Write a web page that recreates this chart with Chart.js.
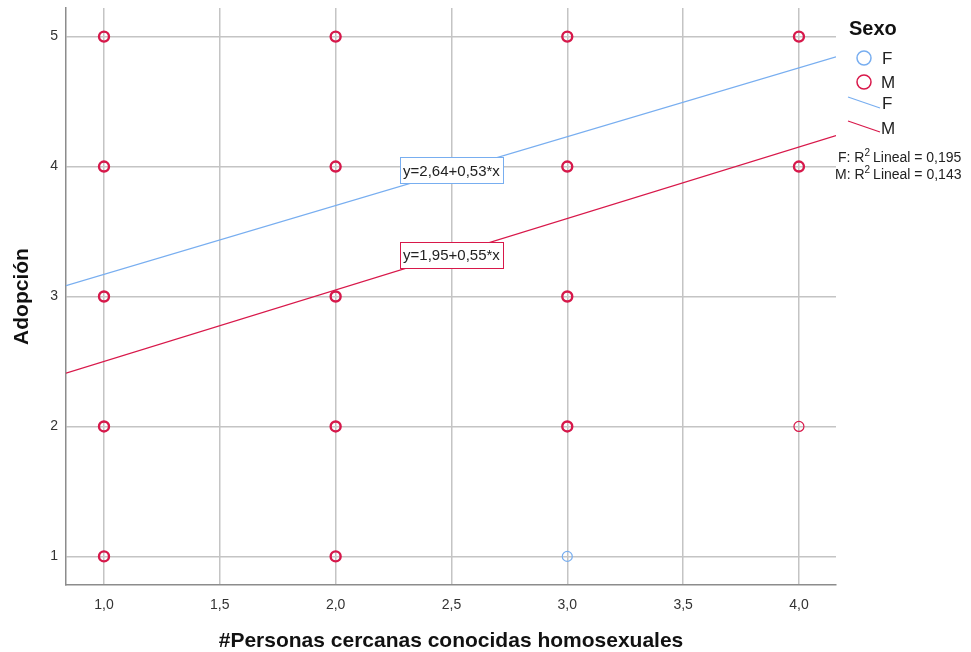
<!DOCTYPE html>
<html>
<head>
<meta charset="utf-8">
<script src="https://cdn.jsdelivr.net/npm/chart.js@4/dist/chart.umd.min.js"></script>
<style>
  html, body { margin: 0; padding: 0; background: #fff; }
  #wrap { width: 971px; height: 652px; }
</style>
</head>
<body>
<div id="wrap"><canvas id="chart"></canvas></div>
<script>
// ── Data ─────────────────────────────────────────────────
const xTicks = [1.0, 1.5, 2.0, 2.5, 3.0, 3.5, 4.0];
const yTicks = [1, 2, 3, 4, 5];

// observed points (# personas, adopción)
const pointsF = [
  [1,5],[1,4],[1,3],[1,2],[1,1],
  [2,5],[2,4],[2,3],[2,2],[2,1],
  [3,5],[3,4],[3,3],[3,2],[3,1],
  [4,5],[4,4]
];
const pointsM = [
  [1,5],[1,4],[1,3],[1,2],[1,1],
  [2,5],[2,4],[2,3],[2,2],[2,1],
  [3,5],[3,4],[3,3],[3,2],
  [4,5],[4,4],[4,2]
];
// points where only one case sits (drawn thinner)
const singleM = [[4,2]];

// fit lines: intercept, slope
const fitF = { a: 2.64, b: 0.53, label: 'y=2,64+0,53*x', r2: '0,195' };
const fitM = { a: 1.95, b: 0.55, label: 'y=1,95+0,55*x', r2: '0,143' };
const labelAnchors = { F: [2.5, 3.97], M: [2.5, 3.32] };

const xMin = 0.836, xMax = 4.16;
const yMin = 0.78,  yMax = 5.22;

const BLUE = '#78aef0';
const RED  = '#d8184a';
const FONT = '"Liberation Sans", Arial, sans-serif';

const toXY = (p) => ({ x: p[0], y: p[1] });
const isSingle = (p) => singleM.some(s => s[0] === p[0] && s[1] === p[1]);
const fitLine = (f) => [ { x: xMin, y: f.a + f.b * xMin }, { x: xMax, y: f.a + f.b * xMax } ];

// ── Plugins ──────────────────────────────────────────────
const eqLabels = {
  id: 'eqLabels',
  afterDatasetsDraw(chart) {
    const { ctx, scales: { x, y } } = chart;
    const draw = (fit, anchor, color) => {
      ctx.save();
      ctx.font = '15px ' + FONT;
      const w = Math.round(ctx.measureText(fit.label).width + 6);
      const h = 26;
      const cx = x.getPixelForValue(anchor[0]);
      const cy = y.getPixelForValue(anchor[1]);
      const bx = Math.round(cx - w / 2), by = Math.round(cy - h / 2);
      ctx.fillStyle = '#fff';
      ctx.fillRect(bx, by, w, h);
      ctx.strokeStyle = color;
      ctx.lineWidth = 1;
      ctx.strokeRect(bx + 0.5, by + 0.5, w, h);
      ctx.fillStyle = '#222';
      ctx.textAlign = 'center';
      ctx.textBaseline = 'middle';
      ctx.fillText(fit.label, cx, cy + 1);
      ctx.restore();
    };
    draw(fitF, labelAnchors.F, BLUE);
    draw(fitM, labelAnchors.M, RED);
  }
};

const sideLegend = {
  id: 'sideLegend',
  afterDraw(chart) {
    const ctx = chart.ctx;
    ctx.save();
    ctx.fillStyle = '#111';
    ctx.font = 'bold 20px ' + FONT;
    ctx.textBaseline = 'middle';
    ctx.fillText('Sexo', 849, 29);

    ctx.font = '17px ' + FONT;
    ctx.lineWidth = 1.5;
    ctx.strokeStyle = BLUE;
    ctx.beginPath(); ctx.arc(864, 58, 7, 0, Math.PI * 2); ctx.stroke();
    ctx.strokeStyle = RED;
    ctx.beginPath(); ctx.arc(864, 82, 7, 0, Math.PI * 2); ctx.stroke();
    ctx.fillStyle = '#222';
    ctx.fillText('F', 882, 59);
    ctx.fillText('M', 881, 83);

    ctx.lineWidth = 1.2;
    ctx.strokeStyle = BLUE;
    ctx.beginPath(); ctx.moveTo(848, 97); ctx.lineTo(880, 108); ctx.stroke();
    ctx.strokeStyle = RED;
    ctx.beginPath(); ctx.moveTo(848, 121); ctx.lineTo(880, 132); ctx.stroke();
    ctx.fillText('F', 882, 104);
    ctx.fillText('M', 881, 129);

    const r2 = (x, y, who, val) => {
      ctx.font = '14px ' + FONT;
      ctx.fillText(who + ': R', x, y);
      let xx = x + ctx.measureText(who + ': R').width;
      ctx.font = '10px ' + FONT;
      ctx.fillText('2', xx, y - 5);
      xx += ctx.measureText('2').width + 3;
      ctx.font = '14px ' + FONT;
      ctx.fillText('Lineal = ' + val, xx, y);
    };
    r2(838, 158, 'F', fitF.r2);
    r2(835, 175, 'M', fitM.r2);
    ctx.restore();
  }
};

// ── Chart ────────────────────────────────────────────────
new Chart(document.getElementById('chart').getContext('2d'), {
  type: 'scatter',
  data: {
    datasets: [
      { label: 'M', data: pointsM.map(toXY), order: 1,
        pointRadius: 5, pointBackgroundColor: 'rgba(0,0,0,0)', borderColor: RED,
        pointBorderWidth: pointsM.map(p => isSingle(p) ? 1.2 : 2.4) },
      { label: 'F', data: pointsF.map(toXY), order: 2,
        pointRadius: 5, pointBackgroundColor: 'rgba(0,0,0,0)', borderColor: BLUE,
        pointBorderWidth: 1.2 },
      { type: 'line', label: 'F fit', data: fitLine(fitF), order: 0,
        borderColor: BLUE, borderWidth: 1.3, pointRadius: 0, fill: false },
      { type: 'line', label: 'M fit', data: fitLine(fitM), order: 0,
        borderColor: RED, borderWidth: 1.3, pointRadius: 0, fill: false },
    ]
  },
  options: {
    responsive: true, maintainAspectRatio: false, animation: false,
    layout: { padding: { top: 8, right: 135, left: 0, bottom: 0 } },
    plugins: { legend: { display: false }, tooltip: { enabled: false } },
    scales: {
      x: {
        type: 'linear', min: xMin, max: xMax,
        afterBuildTicks: (s) => { s.ticks = xTicks.map(v => ({ value: v })); },
        afterFit: (s) => { s.height = 67; s.paddingLeft = 0; s.paddingRight = 0; },
        ticks: { color: '#333', font: { family: FONT, size: 14 }, padding: 12,
                 callback: (v) => v.toFixed(1).replace('.', ',') },
        grid: { color: '#c4c4c4', lineWidth: 1.5, drawTicks: false },
        border: { color: '#8c8c8c', width: 1.5 },
        title: { display: true, text: '#Personas cercanas conocidas homosexuales', color: '#111',
                 font: { family: FONT, size: 21, weight: 'bold' }, padding: { top: 18, bottom: -2 } }
      },
      y: {
        type: 'linear', min: yMin, max: yMax,
        afterBuildTicks: (s) => { s.ticks = yTicks.map(v => ({ value: v })); },
        afterFit: (s) => { s.width = 66; s.paddingTop = 0; s.paddingBottom = 0; },
        ticks: { color: '#333', font: { family: FONT, size: 14 }, padding: 8 },
        grid: { color: '#c4c4c4', lineWidth: 1.5, drawTicks: false },
        border: { color: '#8c8c8c', width: 1.5 },
        title: { display: true, text: 'Adopción', color: '#111',
                 font: { family: FONT, size: 21, weight: 'bold' }, padding: { top: 10, bottom: 0 } }
      }
    }
  },
  plugins: [eqLabels, sideLegend]
});
</script>
</body>
</html>
